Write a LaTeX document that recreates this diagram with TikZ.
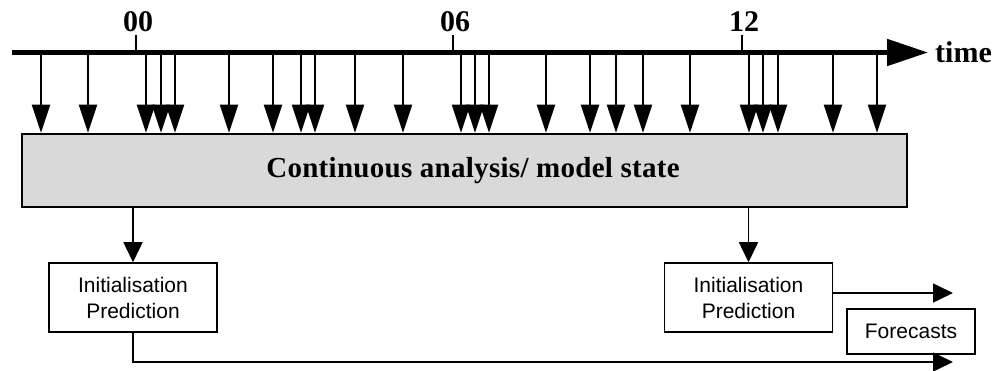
\documentclass[tikz,border=0pt]{standalone}
\usepackage{fontspec}
\setmainfont{Liberation Serif}
\newfontfamily\boxfont{Liberation Sans}
\usetikzlibrary{arrows.meta}

\tikzset{
	timeline/.style={line width=5pt, -{Triangle[length=41pt, width=26pt]}},
	obsarrow/.style={line width=2pt, -{Triangle[length=28pt, width=18pt]}},
	flow/.style={line width=1.5pt, -{Triangle[length=20pt, width=19pt]}},
	statebox/.style={draw, line width=2.5pt, fill=black!15, minimum width=885pt, minimum height=73pt, inner sep=0pt},
	initbox/.style={draw, line width=1.5pt, fill=white, align=center, inner sep=0pt, font=\boxfont\fontsize{21}{26}\selectfont},
	hourlabel/.style={anchor=base, inner sep=0pt, font=\bfseries\fontsize{30}{32}\selectfont}
}

\begin{document}
			\begin{tikzpicture}[x=1pt, y=-1pt]
				\useasboundingbox (0,0) rectangle (995,371);

				% time axis
				\coordinate (t0) at (12,52.5);
				\coordinate (tend) at (928,52.5);
				\draw[timeline] (t0) -- (tend);
				\node[hourlabel, anchor=base west] (time) at (935,63) {time};
				\foreach \x/\hr in {136/00, 453/06, 742/12} {
					\draw[line width=1.5pt] (\x,0 |- t0) -- (\x,35);
					\node[hourlabel] (h\hr) at (\x+2,32) {\hr};
				}

				% analysis box
				\node[statebox] (state) at (464.5,170.5) {\hspace*{17pt}\bfseries\addfontfeatures{LetterSpace=1}\fontsize{29}{30}\selectfont Continuous analysis/ model state};

				% observations
				\foreach \x in {41,88,146,161,175,229,273,301,315,355,403,461,475,489,546,590,616,643,690,749,763,778,833,877}
					\draw[obsarrow] (\x,0 |- t0) -- (\x,0 |- state.north);

				% forecast runs
				\node[initbox, minimum width=168pt, minimum height=69pt] (init00) at (133,297.5) {Initialisation\\Prediction};
				\node[initbox, minimum width=168pt, minimum height=69pt] (init12) at (748.5,297.5) {Initialisation\\Prediction};
				\node[initbox, minimum width=128pt, minimum height=45pt] (fc) at (911,331.5) {Forecasts};

				\coordinate (fc00) at (953,362);
				\coordinate (fc12) at (953,293);
				\draw[flow] (state.south -| init00) -- (init00.north);
				\draw[flow] (state.south -| init12) -- (init12.north);
				\draw[flow] (init00.south) |- (fc00);
				\draw[flow] (init12.east |- fc12) -- (fc12);
			\end{tikzpicture}
\end{document}
